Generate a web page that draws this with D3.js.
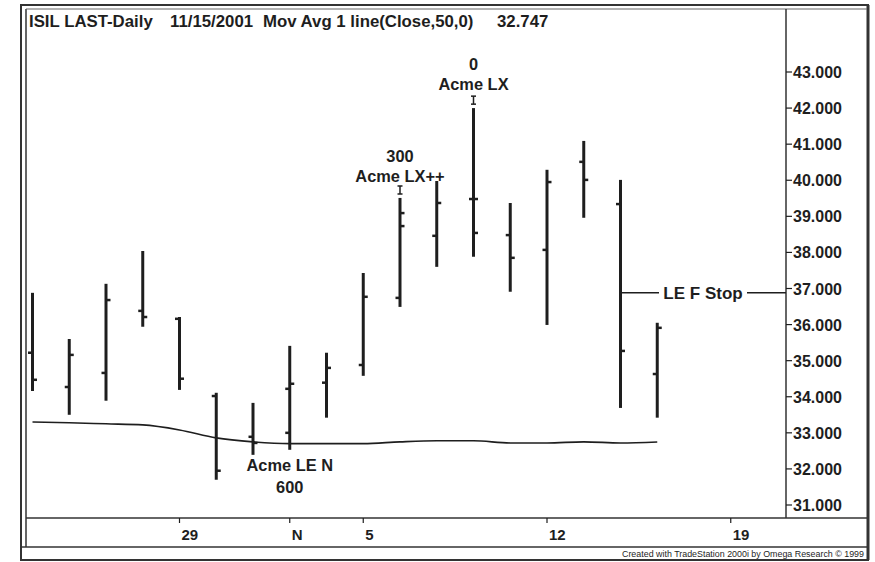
<!DOCTYPE html>
<html>
<head>
<meta charset="utf-8">
<script src="https://cdn.jsdelivr.net/npm/d3@7"></script>
<style>
  body { margin: 0; background: #fff; }
  svg { display: block; font-family: "Liberation Sans", Arial, sans-serif; }
</style>
</head>
<body>
<svg width="875" height="562"></svg>
<script>
// daily bars, 10/23/2001 .. 11/15/2001 (trading days)
const dates = ["10/23","10/24","10/25","10/26","10/29","10/30","10/31","11/1","11/2",
  "11/5","11/6","11/7","11/8","11/9","11/12","11/13","11/14","11/15"];
const opens  = [35.22,34.27,34.66,36.38,36.16,34.02,32.89,33.00,34.39,34.88,36.74,38.46,39.48,38.48,38.07,40.51,39.34,34.63];
const highs  = [36.88,35.60,37.13,38.04,36.21,34.11,33.83,35.41,35.22,37.43,39.51,39.98,42.00,39.37,40.29,41.09,40.01,36.05];
const lows   = [34.16,33.50,33.89,35.94,34.19,31.70,32.39,32.53,33.42,34.58,36.49,37.60,37.88,36.91,35.99,38.96,33.69,33.42];
const closes = [34.47,35.16,36.68,36.21,34.50,31.95,32.72,34.36,34.80,36.77,39.09,39.37,38.54,37.85,39.95,40.01,35.27,35.91];
const movAvg = [33.30,33.28,33.25,33.22,33.08,32.86,32.75,32.70,32.70,32.70,32.75,32.78,32.78,32.72,32.72,32.75,32.72,32.747];

// x axis labels: trading-day index -> label
const dateTicks = [[4,"29"],[7,"N"],[9,"5"],[14,"12"],[19,"19"]];
const priceTicks = [31,32,33,34,35,36,37,38,39,40,41,42,43];

// trade fills drawn as extra ticks on the bars
const fills = [{i:7, price:34.22, side:"L"}, {i:10, price:38.73, side:"R"}, {i:12, price:39.48, side:"R"}];
// markers above bars (exit signals)
const exitMarks = [{i:10, price:39.73}, {i:12, price:42.22}];
const stopLevel = {i:16, price:36.88, label:"LE F Stop"};

const notes = [
  {i:12, lines:["0","Acme LX"], y:[70,90]},
  {i:10, lines:["300","Acme LX++"], y:[162,182]},
  {i:7,  lines:["Acme LE N","600"], y:[471,493]}
];

const svg = d3.select("svg");
const ink = "#1e1e1e";

const plot = {left: 26, top: 9, right: 786, bottom: 518};
const x = d3.scaleLinear().domain([0, 17]).range([32.5, 32.5 + 17 * 36.75]);
const y = d3.scaleLinear().domain([31, 43]).range([505, 72]);

// frame
const frame = svg.append("g").attr("stroke", "#333").attr("fill", "none");
frame.append("rect").attr("x", 21).attr("y", 5).attr("width", 847).attr("height", 555).attr("stroke-width", 2);
frame.append("line").attr("x1", 868).attr("x2", 868).attr("y1", 5).attr("y2", 560).attr("stroke-width", 3);
frame.append("line").attr("x1", plot.left).attr("x2", plot.left).attr("y1", plot.top).attr("y2", 547).attr("stroke-width", 1.5);
frame.append("line").attr("x1", plot.left).attr("x2", 867).attr("y1", plot.top).attr("y2", plot.top).attr("stroke-width", 1.2).attr("stroke", "#666");
frame.append("line").attr("x1", plot.right).attr("x2", plot.right).attr("y1", plot.top).attr("y2", plot.bottom).attr("stroke-width", 1.5);
frame.append("line").attr("x1", plot.left).attr("x2", 867).attr("y1", plot.bottom).attr("y2", plot.bottom).attr("stroke-width", 1.5);
frame.append("line").attr("x1", 21).attr("x2", 868).attr("y1", 547).attr("y2", 547).attr("stroke-width", 1.5);

// title
const title = svg.append("g").attr("font-size", 16.8).attr("font-weight", "bold").attr("fill", ink);
[["ISIL LAST-Daily", 29], ["11/15/2001", 170], ["Mov Avg 1 line(Close,50,0)", 263], ["32.747", 497]]
  .forEach(([t, px]) => title.append("text").attr("x", px).attr("y", 27).text(t));

// right price axis
const yAxis = svg.append("g");
priceTicks.forEach(p => {
  yAxis.append("line").attr("x1", plot.right).attr("x2", plot.right + 6)
    .attr("y1", y(p)).attr("y2", y(p)).attr("stroke", ink).attr("stroke-width", 1.2);
  yAxis.append("text").attr("x", plot.right + 7).attr("y", y(p) + 6)
    .attr("font-size", 16).attr("font-weight", "bold").attr("fill", ink)
    .text(d3.format(".3f")(p));
});

// bottom date axis
const xAxis = svg.append("g");
dateTicks.forEach(([i, lab]) => {
  xAxis.append("line").attr("x1", x(i)).attr("x2", x(i)).attr("y1", plot.bottom).attr("y2", plot.bottom + 5)
    .attr("stroke", ink).attr("stroke-width", 1.2);
  xAxis.append("text").attr("x", x(i) + 2).attr("y", 540)
    .attr("font-size", 15).attr("font-weight", "bold").attr("fill", ink).text(lab);
});

// moving average
svg.append("path")
  .datum(movAvg)
  .attr("fill", "none").attr("stroke", ink).attr("stroke-width", 1.6)
  .attr("d", d3.line().x((d, i) => x(i)).y(d => y(d)).curve(d3.curveMonotoneX));

// OHLC bars
const bars = svg.append("g").attr("stroke", ink);
dates.forEach((d, i) => {
  const cx = x(i);
  bars.append("line").attr("x1", cx).attr("x2", cx).attr("y1", y(highs[i])).attr("y2", y(lows[i])).attr("stroke-width", 3);
  bars.append("line").attr("x1", cx - 4.5).attr("x2", cx).attr("y1", y(opens[i])).attr("y2", y(opens[i])).attr("stroke-width", 2.5);
  bars.append("line").attr("x1", cx).attr("x2", cx + 4.5).attr("y1", y(closes[i])).attr("y2", y(closes[i])).attr("stroke-width", 2.5);
});
fills.forEach(f => {
  const cx = x(f.i);
  const dx = f.side === "L" ? -4.5 : 4.5;
  bars.append("line").attr("x1", cx).attr("x2", cx + dx).attr("y1", y(f.price)).attr("y2", y(f.price)).attr("stroke-width", 2.5);
});
exitMarks.forEach(m => {
  const cx = x(m.i), cy = y(m.price);
  const g = bars.append("g").attr("stroke-width", 1.5);
  g.append("line").attr("x1", cx).attr("x2", cx).attr("y1", cy - 4).attr("y2", cy + 4);
  g.append("line").attr("x1", cx - 2.5).attr("x2", cx + 2.5).attr("y1", cy - 4).attr("y2", cy - 4);
  g.append("line").attr("x1", cx - 2.5).attr("x2", cx + 2.5).attr("y1", cy + 4).attr("y2", cy + 4);
});

// stop line with label
const sy = y(stopLevel.price);
svg.append("line").attr("x1", x(stopLevel.i)).attr("x2", 659).attr("y1", sy).attr("y2", sy).attr("stroke", ink).attr("stroke-width", 1.5);
svg.append("line").attr("x1", 747).attr("x2", plot.right).attr("y1", sy).attr("y2", sy).attr("stroke", ink).attr("stroke-width", 1.5);
svg.append("text").attr("x", 703).attr("y", sy + 6).attr("text-anchor", "middle")
  .attr("font-size", 17).attr("font-weight", "bold").attr("fill", ink).text(stopLevel.label);

// trade annotations
notes.forEach(n => {
  n.lines.forEach((t, k) => {
    svg.append("text").attr("x", x(n.i)).attr("y", n.y[k]).attr("text-anchor", "middle")
      .attr("font-size", 16.4).attr("font-weight", "bold").attr("fill", ink).text(t);
  });
});

// footer
svg.append("text").attr("x", 864).attr("y", 557).attr("text-anchor", "end")
  .attr("font-size", 8.5).attr("fill", ink)
  .attr("textLength", 242).attr("lengthAdjust", "spacingAndGlyphs")
  .text("Created with TradeStation 2000i by Omega Research \u00a9 1999");
</script>
</body>
</html>
